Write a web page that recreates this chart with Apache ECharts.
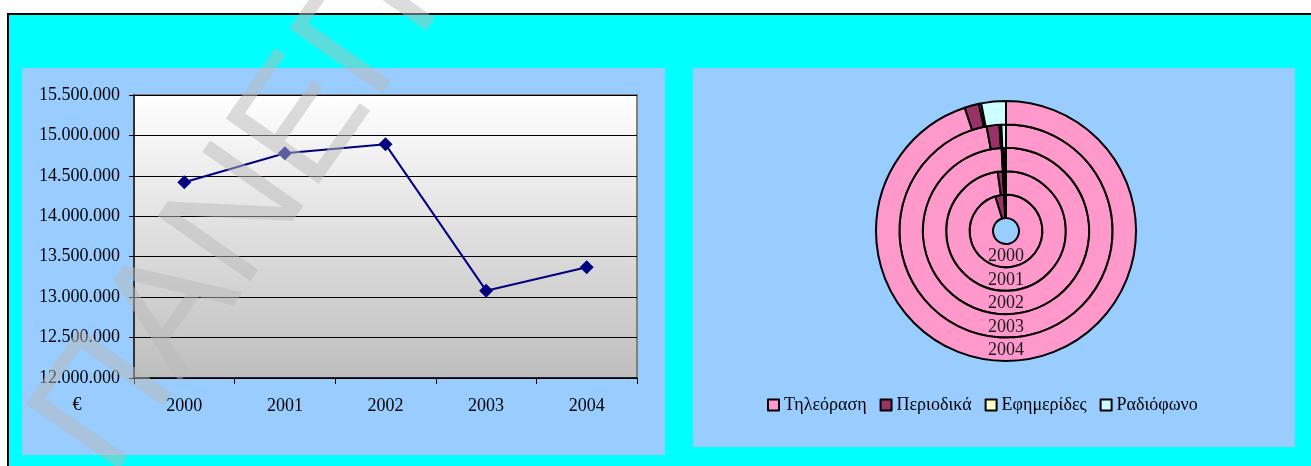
<!DOCTYPE html>
<html>
<head>
<meta charset="utf-8">
<script src="https://cdn.jsdelivr.net/npm/echarts@6/dist/echarts.min.js"></script>
<style>
html,body{margin:0;padding:0;background:#fff;}
#chart{width:1311px;height:466px;}
</style>
</head>
<body>
<div id="chart"></div>
<script>
// ---- data ----
const years = ['2000', '2001', '2002', '2003', '2004'];
const totals = [14420000, 14780000, 14890000, 13080000, 13370000];
const yMin = 12000000;
const yMax = 15500000;
const yStep = 500000;
const currencyLabel = '€';
const media = ['Τηλεόραση', 'Περιοδικά', 'Εφημερίδες', 'Ραδιόφωνο'];
const tvShare = [343, 352, 357, 349.5, 341.5];
const magazinesShare = [14, 5, 1, 7, 6.5];
const newspapersShare = [1, 1, 0.5, 1, 1];
const radioShare = [2, 2, 1.5, 2.5, 11];
const mediaColors = ['#FF99CC', '#993366', '#FFFFCC', '#CCFFFF'];
const watermark = 'ΠΑΝΕΠΙΣΤΗΜΙΟ';

// ---- layout ----
const pieCenter = [1006, 231];
const holeR = 13;
const ringW = 23.4;
const serif = '"Liberation Serif", "Times New Roman", serif';

const fmt = v => String(Math.round(v)).replace(/\B(?=(\d{3})+(?!\d))/g, '.');

const shares = [tvShare, magazinesShare, newspapersShare, radioShare];
const pieSeries = years.map((y, i) => ({
  type: 'pie',
  name: y,
  center: pieCenter,
  radius: [holeR + ringW * i, holeR + ringW * (i + 1)],
  startAngle: 90,
  clockwise: true,
  avoidLabelOverlap: false,
  label: { show: false },
  labelLine: { show: false },
  emphasis: { disabled: true },
  silent: true,
  itemStyle: { borderColor: '#000', borderWidth: 2 },
  data: media.map((m, k) => ({ name: m, value: shares[k][i], itemStyle: { color: mediaColors[k] } }))
}));

const ringLabels = years.map((y, i) => ({
  type: 'text',
  z: 50,
  x: pieCenter[0],
  y: pieCenter[1] + holeR + ringW * (i + 0.5) + 1,
  style: { text: y, font: '18px ' + serif, fill: '#1a1a1a', align: 'center', verticalAlign: 'middle' }
}));

const chart = echarts.init(document.getElementById('chart'), null, { renderer: 'canvas' });
chart.setOption({
  animation: false,
  backgroundColor: '#ffffff',
  textStyle: { fontFamily: serif },
  graphic: [
    { type: 'rect', z: -10, shape: { x: 8, y: 14, width: 1330, height: 480 },
      style: { fill: '#00FFFF', stroke: '#000', lineWidth: 2 } },
    { type: 'rect', z: -9, shape: { x: 22, y: 68, width: 643, height: 387 }, style: { fill: '#99CCFF' } },
    { type: 'rect', z: -9, shape: { x: 693, y: 68, width: 602, height: 379 }, style: { fill: '#99CCFF' } },
    { type: 'text', z: 50, x: 77, y: 405,
      style: { text: currencyLabel, font: '18px ' + serif, fill: '#000', align: 'center', verticalAlign: 'middle' } },
    ...ringLabels,
    { type: 'text', z: 200, silent: true, x: 74, y: 454, rotation: 55 * Math.PI / 180,
      style: { text: watermark, font: '165px "Liberation Sans", Arial, sans-serif', fill: 'rgba(185,185,185,0.5)',
        align: 'left', verticalAlign: 'middle' } }
  ],
  grid: {
    left: 134, top: 95, width: 503, height: 283,
    show: true,
    borderColor: '#808080', borderWidth: 2,
    backgroundColor: new echarts.graphic.LinearGradient(0, 0, 0, 1, [
      { offset: 0, color: '#FFFFFF' },
      { offset: 1, color: '#BEBEBE' }
    ])
  },
  xAxis: {
    type: 'category',
    data: years,
    boundaryGap: true,
    axisLine: { lineStyle: { color: '#000', width: 1.5 } },
    axisTick: { show: true, length: 6, alignWithLabel: false, lineStyle: { color: '#000' } },
    axisLabel: { color: '#000', fontSize: 18, fontFamily: serif, margin: 19 },
    splitLine: { show: false }
  },
  yAxis: {
    type: 'value',
    min: yMin, max: yMax, interval: yStep,
    axisLine: { show: true, lineStyle: { color: '#333', width: 2 } },
    axisTick: { show: true, length: 5, lineStyle: { color: '#000' } },
    axisLabel: { color: '#000', fontSize: 18, fontFamily: serif, margin: 14, formatter: fmt },
    splitLine: { show: true, lineStyle: { color: '#000', width: 1 } }
  },
  legend: {
    data: media,
    left: 762, top: 391,
    itemWidth: 11, itemHeight: 11, itemGap: 13,
    icon: 'rect',
    itemStyle: { borderColor: '#000', borderWidth: 2 },
    textStyle: { color: '#000', fontSize: 18, fontFamily: serif },
    selectedMode: false
  },
  series: [
    {
      type: 'line',
      data: totals,
      symbol: 'diamond',
      symbolSize: 14,
      itemStyle: { color: '#000080' },
      lineStyle: { color: '#000080', width: 2 },
      z: 5
    },
    ...pieSeries
  ]
});
</script>
</body>
</html>
